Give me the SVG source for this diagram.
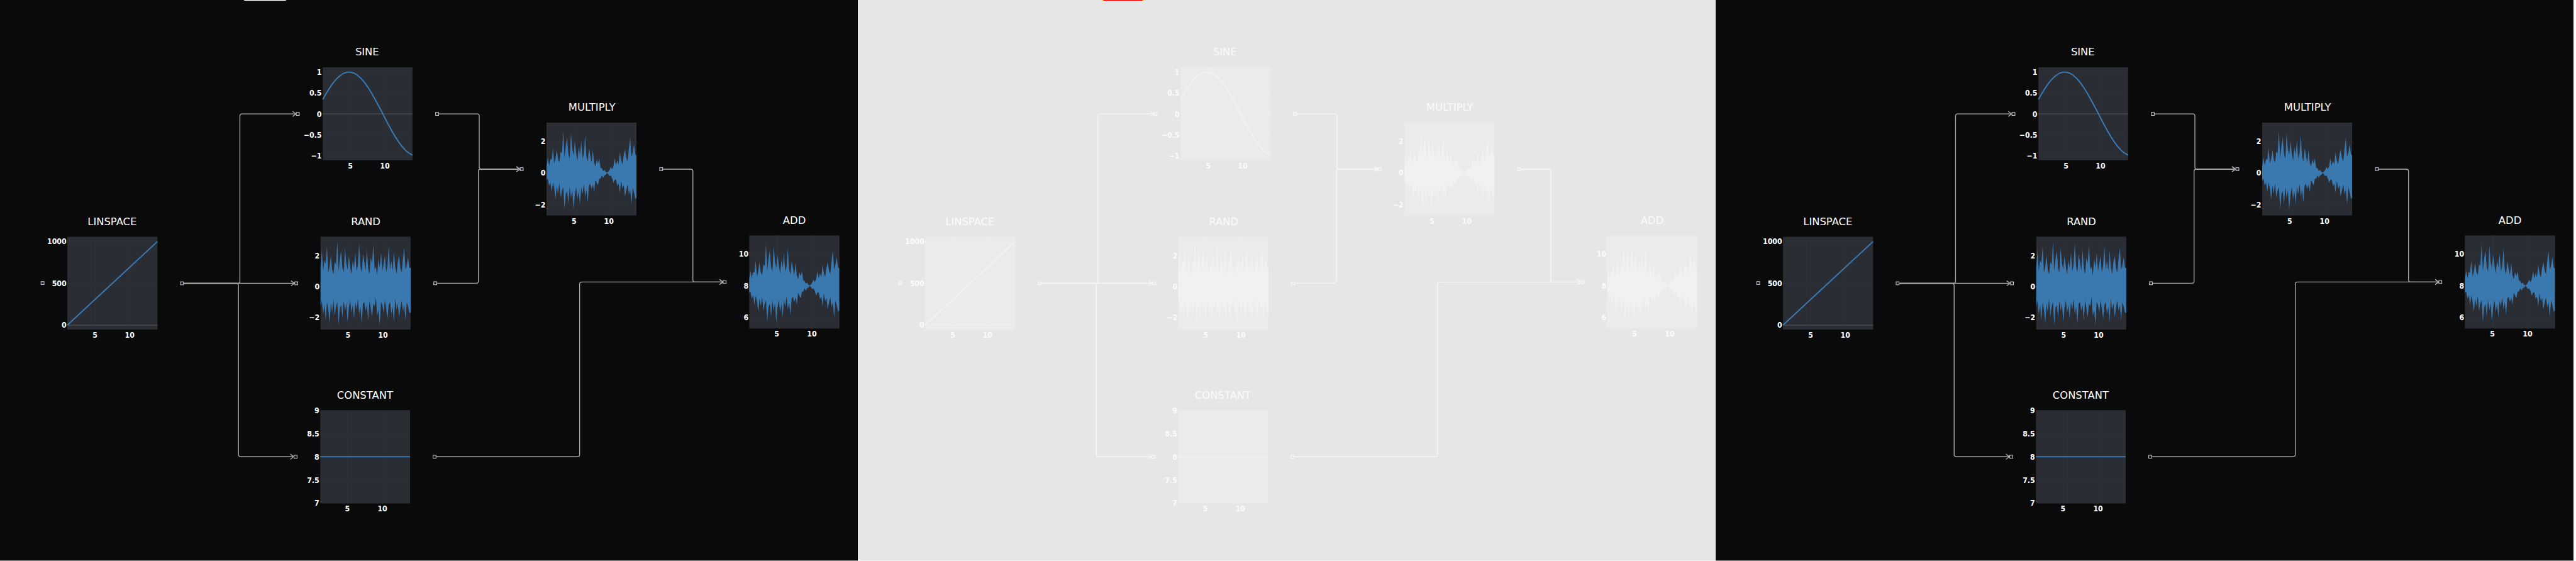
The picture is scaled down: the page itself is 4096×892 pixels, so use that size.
<svg xmlns="http://www.w3.org/2000/svg" xmlns:xlink="http://www.w3.org/1999/xlink" width="4096" height="892" viewBox="0 0 4096 892">
<style>
.bg{fill:#0a0a0a}
.plot{fill:#2a2d34}
.grid{stroke:#32353c;stroke-width:1;fill:none}
.zero{stroke:#4b4c51;stroke-width:2;fill:none}
.line{fill:none;stroke:#3a78b0;stroke-width:3;stroke-linejoin:round}
.band{fill:#3a78b0}
.title{font-family:"DejaVu Sans","Liberation Sans",sans-serif;font-size:24px;fill:#ffffff;text-anchor:middle}
.tk{font-family:"DejaVu Sans Condensed","DejaVu Sans","Liberation Sans",sans-serif;font-stretch:condensed;font-weight:bold;font-size:18px;fill:#ffffff}
.ty{text-anchor:end}
.tx{text-anchor:middle}
.conn{fill:none;stroke:#aaaaaa;stroke-width:2;marker-end:url(#arrD)}
.port{fill:#1c1b2b;stroke:#c8c8c8;stroke-width:1.5}
.light .bg{fill:#e6e6e6}
.light .plot{fill:#ebebeb}
.light .grid{stroke:#eeeeee}
.light .zero{stroke:#eeeeee}
.light .line{stroke:#f2f2f2}
.light .band{fill:#f1f1f1}
.light .conn{stroke:#f6f6f6;marker-end:url(#arrL)}
.light .port{fill:#e8e8e8;stroke:#fafafa}
.light .title,.light .tk{fill:#fbfbfb}
</style>
<defs>
<marker id="arrD" viewBox="-10 -8 12 16" markerWidth="12" markerHeight="16" refX="0" refY="0" orient="auto" markerUnits="userSpaceOnUse"><path d="M-8,-6 L0,0 L-8,6" fill="none" stroke="#aaaaaa" stroke-width="2"/></marker>
<marker id="arrL" viewBox="-10 -8 12 16" markerWidth="12" markerHeight="16" refX="0" refY="0" orient="auto" markerUnits="userSpaceOnUse"><path d="M-8,-6 L0,0 L-8,6" fill="none" stroke="#f6f6f6" stroke-width="2"/></marker>
<path id="randBand" d="M0,-1.2 L1,-2.4 2,-1 3,-1.7 4,-1.5 5,-2.6 6,-0.9 7,-1.3 8,-2 9,-1.1 10,-0.8 11,-1.6 12,-1.4 13,-2.9 14,-1 15,-1.8 16,-2.3 17,-1.2 18,-0.9 19,-2.5 20,-1.5 21,-1.1 22,-2 23,-1.3 24,-0.8 25,-1.7 26,-1.2 27,-2.2 28,-1 29,-1.4 30,-2.8 31,-1.3 32,-0.9 33,-2.1 34,-1.6 35,-1 36,-2.4 37,-1.2 38,-0.8 39,-1.9 40,-1.5 41,-2.7 42,-1.1 43,-1.3 44,-0.7 45,-1.8 46,-1.2 47,-2.2 48,-1 49,-1.5 50,-2 51,-0.9 52,-1.4 53,-2.6 54,-1.1 55,-1.7 56,-1 57,-2.3 58,-1.3 59,-0.8 60,-1.6 61,-2 62,-1.2 63,-0.9 64,-1.8 65,-2.5 66,-1.1 67,-1.4 68,-1.9 69,-1.2 70,-1.2 L70,1.7 69,1.7 68,1.3 67,1 66,2.2 65,1.2 64,1.6 63,0.9 62,1.4 61,2 60,1.1 59,1.5 58,0.8 57,2.3 56,1.3 55,1.8 54,1 53,1.2 52,2.1 51,1.4 50,0.9 49,1.7 48,1.2 47,1 46,2.5 45,1.5 44,1.9 43,0.7 42,1.3 41,1.1 40,2 39,1.4 38,0.9 37,2.2 36,1.2 35,1.6 34,1 33,1.1 32,2.4 31,1.3 30,1.8 29,0.8 28,1.5 27,1 26,2.1 25,1.2 24,1.7 23,0.9 22,1.4 21,2.3 20,1.1 19,1.6 18,0.9 17,2 16,1.2 15,1.4 14,2.5 13,1 12,1.3 11,1.9 10,0.8 9,1.7 8,1.1 7,2.4 6,1.5 5,1 4,2.2 3,1.2 2,1.8 1,0.9 0,1.3 Z"/>
<path id="multBand" d="M0,-15.3 L3,-35.6 6,-16.8 9,-31.9 12,-30.9 15,-58.2 18,-21.7 21,-33.5 24,-54.6 27,-31.6 30,-24 33,-50 36,-45.4 39,-96.9 42,-34.3 45,-63.1 48,-82.1 51,-43.5 54,-32.9 57,-92.2 60,-55.5 63,-40.7 66,-73.7 69,-47.5 72,-28.9 75,-60.6 78,-42 81,-75.3 84,-33.3 87,-45.3 90,-87.3 93,-38.9 96,-25.7 99,-57 102,-41 105,-24 108,-53.3 111,-24.5 114,-14.8 117,-31.6 120,-21.9 123,-34 126,-11.5 129,-10.9 132,-4.3 135,-7.2 138,-2.2 141,-0.8 144,-2.6 147,-7.2 150,-13.9 153,-8.2 156,-15.7 159,-34.5 162,-16.8 165,-29.4 168,-19.2 171,-48.4 174,-29.6 177,-19.6 180,-41.7 183,-55.2 186,-34.8 189,-27.3 192,-56.7 195,-81.4 198,-36.9 201,-48.1 204,-66.7 207,-43 209.8,-40 L209.8,58 207,60.9 204,45.6 201,34.4 198,73.7 195,39.1 192,50.4 189,27.3 186,40.6 183,55.2 180,28.7 177,36.7 174,18.2 171,48.4 168,24.9 165,31.1 162,15.3 159,15.9 156,23.5 153,12.7 150,6.3 147,8.1 144,3.1 141,0.4 138,4.6 135,6 132,11.8 129,5.9 126,13.6 123,13.8 120,29.2 117,23.3 114,16.7 111,44.9 108,26.7 105,38.3 102,25.6 99,29.9 96,68.6 93,38.9 90,56.1 87,25.9 84,50 81,34.2 78,73.5 75,42.8 72,61.5 69,32.9 66,51.6 63,85.1 60,40.7 57,59 54,32.9 51,72.5 48,42.9 45,49.1 42,85.8 39,33.4 36,42.1 33,59.4 30,24 27,48.8 24,30 21,61.8 18,36.2 15,22.4 12,45.3 9,22.5 6,30.3 3,13.3 0,16.6 Z"/>
<polyline id="sineCurve" points="752.6,231.9 760.6,217.7 768.7,204.7 776.7,193.3 784.8,183.8 792.8,176.4 800.9,171.2 808.9,168.4 816.9,168.2 825,170.4 833,175.1 841.1,182.1 849.1,191.3 857.2,202.4 865.2,215.2 873.3,229.4 881.3,244 889.4,259.3 897.4,275 905.4,290.4 913.5,305 921.5,318.7 929.6,331.1 937.6,341.7 945.7,350.7 953.7,357.2 961.7,361.4"/>
</defs>
<g transform="scale(0.682)">

<!-- ================= PANEL 1 ================= -->
<g id="p1">
<rect class="bg" x="0" y="0" width="2000" height="1307"/>
<rect x="568" y="-6" width="100" height="8" rx="4" fill="#ffffff"/>
<g id="p1-connectors">
<path class="conn" d="M428.9,660.5 H554.3 Q559.3,660.5 559.3,655.5 V270.6 Q559.3,265.6 564.3,265.6 H690"/>
<path class="conn" d="M428.9,660.5 H686.5"/>
<path class="conn" d="M428.9,660.5 H551 Q556,660.5 556,665.5 V1059.8 Q556,1064.8 561,1064.8 H684.8"/>
<path class="conn" d="M1023,265.6 H1112.3 Q1117.3,265.6 1117.3,270.6 V389.4 Q1117.3,394.4 1122.3,394.4 H1212"/>
<path class="conn" d="M1018.6,660.3 H1110.4 Q1115.4,660.3 1115.4,655.3 V399.4 Q1115.4,394.4 1120.4,394.4 H1212"/>
<path class="conn" d="M1545.3,394.4 H1610.4 Q1615.4,394.4 1615.4,399.4 V652.5 Q1615.4,657.5 1620.4,657.5 H1685.5"/>
<path class="conn" d="M1016.9,1064.8 H1346.4 Q1351.4,1064.8 1351.4,1059.8 V662.5 Q1351.4,657.5 1356.4,657.5 H1685.5"/>
</g>
<g id="p1-linspace">
<text class="title" x="261.5" y="524.3">LINSPACE</text>
<rect class="plot" x="157" y="552" width="210" height="216.6"/>
<path class="grid" d="M221.6,552V768.6M302.3,552V768.6M157,563H367M157,660.5H367"/>
<path class="zero" d="M157,758H367"/>
<path class="line" d="M157,758L367,563"/>
<text class="tk ty" x="155" y="569.5">1000</text>
<text class="tk ty" x="155" y="666.5">500</text>
<text class="tk ty" x="155" y="764.6">0</text>
<text class="tk tx" x="221.6" y="787.5">5</text>
<text class="tk tx" x="302.3" y="787.5">10</text>
<rect class="port" x="95.7" y="656.5" width="7" height="7"/>
<rect class="port" x="420.7" y="657" width="7" height="7"/>
</g>
<g id="p1-sine">
<text class="title" x="856" y="129.7">SINE</text>
<rect class="plot" x="752.6" y="157" width="209.1" height="216.7"/>
<path class="grid" d="M816.9,157V373.7M897.4,157V373.7M752.6,168.4H961.7M752.6,217H961.7M752.6,315H961.7M752.6,363.6H961.7"/>
<path class="zero" d="M752.6,265.6H961.7"/>
<use xlink:href="#sineCurve" class="line"/>
<text class="tk ty" x="750" y="175">1</text>
<text class="tk ty" x="750" y="223.5">0.5</text>
<text class="tk ty" x="750" y="272.2">0</text>
<text class="tk ty" x="750" y="321.5">−0.5</text>
<text class="tk ty" x="750" y="370.2">−1</text>
<text class="tk tx" x="816.9" y="393">5</text>
<text class="tk tx" x="897.4" y="393">10</text>
<rect class="port" x="690.8" y="262.1" width="7" height="7"/>
<rect class="port" x="1015.7" y="262.1" width="7" height="7"/>
</g>
<g id="p1-rand">
<text class="title" x="852.7" y="524.3">RAND</text>
<rect class="plot" x="747.4" y="551.8" width="209.9" height="216.8"/>
<path class="grid" d="M811.2,551.8V768.6M892.9,551.8V768.6M747.4,596H957.3M747.4,740H957.3"/>
<use xlink:href="#randBand" class="band" transform="translate(747.4 668) scale(3 36)"/>
<text class="tk ty" x="745" y="602.5">2</text>
<text class="tk ty" x="745" y="674.5">0</text>
<text class="tk ty" x="745" y="746.5">−2</text>
<text class="tk tx" x="811.2" y="787.5">5</text>
<text class="tk tx" x="892.9" y="787.5">10</text>
<rect class="port" x="687.3" y="657" width="7" height="7"/>
<rect class="port" x="1011.3" y="656.8" width="7" height="7"/>
</g>
<g id="p1-constant">
<text class="title" x="851" y="929">CONSTANT</text>
<rect class="plot" x="746.8" y="956.3" width="209.2" height="217.5"/>
<path class="grid" d="M810,956.3V1173.8M891.6,956.3V1173.8M746.8,1011.2H956M746.8,1119.3H956"/>
<path class="line" d="M746.8,1064.8H956"/>
<text class="tk ty" x="744.5" y="962.8">9</text>
<text class="tk ty" x="744.5" y="1017.7">8.5</text>
<text class="tk ty" x="744.5" y="1071.3">8</text>
<text class="tk ty" x="744.5" y="1125.8">7.5</text>
<text class="tk ty" x="744.5" y="1179.5">7</text>
<text class="tk tx" x="810" y="1192.8">5</text>
<text class="tk tx" x="891.6" y="1192.8">10</text>
<rect class="port" x="685.6" y="1061.3" width="7" height="7"/>
<rect class="port" x="1009.6" y="1061.3" width="7" height="7"/>
</g>
<g id="p1-multiply">
<text class="title" x="1380" y="258.3">MULTIPLY</text>
<rect class="plot" x="1274.2" y="285.8" width="209.8" height="216.7"/>
<path class="grid" d="M1338.6,285.8V502.5M1419.6,285.8V502.5M1274.2,329H1484M1274.2,403H1484M1274.2,477H1484"/>
<use xlink:href="#multBand" class="band" transform="translate(1274.2 403)"/>
<text class="tk ty" x="1272" y="335.5">2</text>
<text class="tk ty" x="1272" y="409.5">0</text>
<text class="tk ty" x="1272" y="483.4">−2</text>
<text class="tk tx" x="1338.6" y="521.5">5</text>
<text class="tk tx" x="1419.6" y="521.5">10</text>
<rect class="port" x="1212.9" y="390.9" width="7" height="7"/>
<rect class="port" x="1538" y="390.9" width="7" height="7"/>
</g>
<g id="p1-add">
<text class="title" x="1852" y="521.3">ADD</text>
<rect class="plot" x="1746.8" y="548.8" width="210.5" height="217.2"/>
<path class="grid" d="M1811,548.8V766M1892.8,548.8V766M1746.8,592H1957.3M1746.8,666H1957.3M1746.8,740H1957.3"/>
<use xlink:href="#multBand" class="band" transform="translate(1746.8 666)"/>
<text class="tk ty" x="1745" y="598.5">10</text>
<text class="tk ty" x="1745" y="672.5">8</text>
<text class="tk ty" x="1745" y="746.5">6</text>
<text class="tk tx" x="1811" y="784.7">5</text>
<text class="tk tx" x="1892.8" y="784.7">10</text>
<rect class="port" x="1686" y="654" width="7" height="7"/>
</g>
</g>

<!-- ================= PANEL 2 ================= -->
<g id="p2" class="light" transform="translate(2000 0)">
<rect class="bg" x="0" y="0" width="2000" height="1307"/>
<rect x="568" y="-6" width="100" height="7.5" rx="4" fill="#ffe600"/>
<rect x="571.5" y="-6" width="93" height="8" rx="3" fill="#ff0000"/>
<g id="p2-connectors">
<path class="conn" d="M428.9,660.5 H554.3 Q559.3,660.5 559.3,655.5 V270.6 Q559.3,265.6 564.3,265.6 H690"/>
<path class="conn" d="M428.9,660.5 H686.5"/>
<path class="conn" d="M428.9,660.5 H551 Q556,660.5 556,665.5 V1059.8 Q556,1064.8 561,1064.8 H684.8"/>
<path class="conn" d="M1023,265.6 H1112.3 Q1117.3,265.6 1117.3,270.6 V389.4 Q1117.3,394.4 1122.3,394.4 H1212"/>
<path class="conn" d="M1018.6,660.3 H1110.4 Q1115.4,660.3 1115.4,655.3 V399.4 Q1115.4,394.4 1120.4,394.4 H1212"/>
<path class="conn" d="M1545.3,394.4 H1610.4 Q1615.4,394.4 1615.4,399.4 V652.5 Q1615.4,657.5 1620.4,657.5 H1685.5"/>
<path class="conn" d="M1016.9,1064.8 H1346.4 Q1351.4,1064.8 1351.4,1059.8 V662.5 Q1351.4,657.5 1356.4,657.5 H1685.5"/>
</g>
<g id="p2-linspace">
<text class="title" x="261.5" y="524.3">LINSPACE</text>
<rect class="plot" x="157" y="552" width="210" height="216.6"/>
<path class="grid" d="M221.6,552V768.6M302.3,552V768.6M157,563H367M157,660.5H367"/>
<path class="zero" d="M157,758H367"/>
<path class="line" d="M157,758L367,563"/>
<text class="tk ty" x="155" y="569.5">1000</text>
<text class="tk ty" x="155" y="666.5">500</text>
<text class="tk ty" x="155" y="764.6">0</text>
<text class="tk tx" x="221.6" y="787.5">5</text>
<text class="tk tx" x="302.3" y="787.5">10</text>
<rect class="port" x="95.7" y="656.5" width="7" height="7"/>
<rect class="port" x="420.7" y="657" width="7" height="7"/>
</g>
<g id="p2-sine">
<text class="title" x="856" y="129.7">SINE</text>
<rect class="plot" x="752.6" y="157" width="209.1" height="216.7"/>
<path class="grid" d="M816.9,157V373.7M897.4,157V373.7M752.6,168.4H961.7M752.6,217H961.7M752.6,315H961.7M752.6,363.6H961.7"/>
<path class="zero" d="M752.6,265.6H961.7"/>
<use xlink:href="#sineCurve" class="line"/>
<text class="tk ty" x="750" y="175">1</text>
<text class="tk ty" x="750" y="223.5">0.5</text>
<text class="tk ty" x="750" y="272.2">0</text>
<text class="tk ty" x="750" y="321.5">−0.5</text>
<text class="tk ty" x="750" y="370.2">−1</text>
<text class="tk tx" x="816.9" y="393">5</text>
<text class="tk tx" x="897.4" y="393">10</text>
<rect class="port" x="690.8" y="262.1" width="7" height="7"/>
<rect class="port" x="1015.7" y="262.1" width="7" height="7"/>
</g>
<g id="p2-rand">
<text class="title" x="852.7" y="524.3">RAND</text>
<rect class="plot" x="747.4" y="551.8" width="209.9" height="216.8"/>
<path class="grid" d="M811.2,551.8V768.6M892.9,551.8V768.6M747.4,596H957.3M747.4,740H957.3"/>
<use xlink:href="#randBand" class="band" transform="translate(747.4 668) scale(3 36)"/>
<text class="tk ty" x="745" y="602.5">2</text>
<text class="tk ty" x="745" y="674.5">0</text>
<text class="tk ty" x="745" y="746.5">−2</text>
<text class="tk tx" x="811.2" y="787.5">5</text>
<text class="tk tx" x="892.9" y="787.5">10</text>
<rect class="port" x="687.3" y="657" width="7" height="7"/>
<rect class="port" x="1011.3" y="656.8" width="7" height="7"/>
</g>
<g id="p2-constant">
<text class="title" x="851" y="929">CONSTANT</text>
<rect class="plot" x="746.8" y="956.3" width="209.2" height="217.5"/>
<path class="grid" d="M810,956.3V1173.8M891.6,956.3V1173.8M746.8,1011.2H956M746.8,1119.3H956"/>
<path class="line" d="M746.8,1064.8H956"/>
<text class="tk ty" x="744.5" y="962.8">9</text>
<text class="tk ty" x="744.5" y="1017.7">8.5</text>
<text class="tk ty" x="744.5" y="1071.3">8</text>
<text class="tk ty" x="744.5" y="1125.8">7.5</text>
<text class="tk ty" x="744.5" y="1179.5">7</text>
<text class="tk tx" x="810" y="1192.8">5</text>
<text class="tk tx" x="891.6" y="1192.8">10</text>
<rect class="port" x="685.6" y="1061.3" width="7" height="7"/>
<rect class="port" x="1009.6" y="1061.3" width="7" height="7"/>
</g>
<g id="p2-multiply">
<text class="title" x="1380" y="258.3">MULTIPLY</text>
<rect class="plot" x="1274.2" y="285.8" width="209.8" height="216.7"/>
<path class="grid" d="M1338.6,285.8V502.5M1419.6,285.8V502.5M1274.2,329H1484M1274.2,403H1484M1274.2,477H1484"/>
<use xlink:href="#multBand" class="band" transform="translate(1274.2 403)"/>
<text class="tk ty" x="1272" y="335.5">2</text>
<text class="tk ty" x="1272" y="409.5">0</text>
<text class="tk ty" x="1272" y="483.4">−2</text>
<text class="tk tx" x="1338.6" y="521.5">5</text>
<text class="tk tx" x="1419.6" y="521.5">10</text>
<rect class="port" x="1212.9" y="390.9" width="7" height="7"/>
<rect class="port" x="1538" y="390.9" width="7" height="7"/>
</g>
<g id="p2-add">
<text class="title" x="1852" y="521.3">ADD</text>
<rect class="plot" x="1746.8" y="548.8" width="210.5" height="217.2"/>
<path class="grid" d="M1811,548.8V766M1892.8,548.8V766M1746.8,592H1957.3M1746.8,666H1957.3M1746.8,740H1957.3"/>
<use xlink:href="#multBand" class="band" transform="translate(1746.8 666)"/>
<text class="tk ty" x="1745" y="598.5">10</text>
<text class="tk ty" x="1745" y="672.5">8</text>
<text class="tk ty" x="1745" y="746.5">6</text>
<text class="tk tx" x="1811" y="784.7">5</text>
<text class="tk tx" x="1892.8" y="784.7">10</text>
<rect class="port" x="1686" y="654" width="7" height="7"/>
</g>
</g>

<!-- ================= PANEL 3 ================= -->
<g id="p3" transform="translate(4000 0)">
<rect class="bg" x="0" y="0" width="2000" height="1307"/>
<g id="p3-connectors">
<path class="conn" d="M428.9,660.5 H554.3 Q559.3,660.5 559.3,655.5 V270.6 Q559.3,265.6 564.3,265.6 H690"/>
<path class="conn" d="M428.9,660.5 H686.5"/>
<path class="conn" d="M428.9,660.5 H551 Q556,660.5 556,665.5 V1059.8 Q556,1064.8 561,1064.8 H684.8"/>
<path class="conn" d="M1023,265.6 H1112.3 Q1117.3,265.6 1117.3,270.6 V389.4 Q1117.3,394.4 1122.3,394.4 H1212"/>
<path class="conn" d="M1018.6,660.3 H1110.4 Q1115.4,660.3 1115.4,655.3 V399.4 Q1115.4,394.4 1120.4,394.4 H1212"/>
<path class="conn" d="M1545.3,394.4 H1610.4 Q1615.4,394.4 1615.4,399.4 V652.5 Q1615.4,657.5 1620.4,657.5 H1685.5"/>
<path class="conn" d="M1016.9,1064.8 H1346.4 Q1351.4,1064.8 1351.4,1059.8 V662.5 Q1351.4,657.5 1356.4,657.5 H1685.5"/>
</g>
<g id="p3-linspace">
<text class="title" x="261.5" y="524.3">LINSPACE</text>
<rect class="plot" x="157" y="552" width="210" height="216.6"/>
<path class="grid" d="M221.6,552V768.6M302.3,552V768.6M157,563H367M157,660.5H367"/>
<path class="zero" d="M157,758H367"/>
<path class="line" d="M157,758L367,563"/>
<text class="tk ty" x="155" y="569.5">1000</text>
<text class="tk ty" x="155" y="666.5">500</text>
<text class="tk ty" x="155" y="764.6">0</text>
<text class="tk tx" x="221.6" y="787.5">5</text>
<text class="tk tx" x="302.3" y="787.5">10</text>
<rect class="port" x="95.7" y="656.5" width="7" height="7"/>
<rect class="port" x="420.7" y="657" width="7" height="7"/>
</g>
<g id="p3-sine">
<text class="title" x="856" y="129.7">SINE</text>
<rect class="plot" x="752.6" y="157" width="209.1" height="216.7"/>
<path class="grid" d="M816.9,157V373.7M897.4,157V373.7M752.6,168.4H961.7M752.6,217H961.7M752.6,315H961.7M752.6,363.6H961.7"/>
<path class="zero" d="M752.6,265.6H961.7"/>
<use xlink:href="#sineCurve" class="line"/>
<text class="tk ty" x="750" y="175">1</text>
<text class="tk ty" x="750" y="223.5">0.5</text>
<text class="tk ty" x="750" y="272.2">0</text>
<text class="tk ty" x="750" y="321.5">−0.5</text>
<text class="tk ty" x="750" y="370.2">−1</text>
<text class="tk tx" x="816.9" y="393">5</text>
<text class="tk tx" x="897.4" y="393">10</text>
<rect class="port" x="690.8" y="262.1" width="7" height="7"/>
<rect class="port" x="1015.7" y="262.1" width="7" height="7"/>
</g>
<g id="p3-rand">
<text class="title" x="852.7" y="524.3">RAND</text>
<rect class="plot" x="747.4" y="551.8" width="209.9" height="216.8"/>
<path class="grid" d="M811.2,551.8V768.6M892.9,551.8V768.6M747.4,596H957.3M747.4,740H957.3"/>
<use xlink:href="#randBand" class="band" transform="translate(747.4 668) scale(3 36)"/>
<text class="tk ty" x="745" y="602.5">2</text>
<text class="tk ty" x="745" y="674.5">0</text>
<text class="tk ty" x="745" y="746.5">−2</text>
<text class="tk tx" x="811.2" y="787.5">5</text>
<text class="tk tx" x="892.9" y="787.5">10</text>
<rect class="port" x="687.3" y="657" width="7" height="7"/>
<rect class="port" x="1011.3" y="656.8" width="7" height="7"/>
</g>
<g id="p3-constant">
<text class="title" x="851" y="929">CONSTANT</text>
<rect class="plot" x="746.8" y="956.3" width="209.2" height="217.5"/>
<path class="grid" d="M810,956.3V1173.8M891.6,956.3V1173.8M746.8,1011.2H956M746.8,1119.3H956"/>
<path class="line" d="M746.8,1064.8H956"/>
<text class="tk ty" x="744.5" y="962.8">9</text>
<text class="tk ty" x="744.5" y="1017.7">8.5</text>
<text class="tk ty" x="744.5" y="1071.3">8</text>
<text class="tk ty" x="744.5" y="1125.8">7.5</text>
<text class="tk ty" x="744.5" y="1179.5">7</text>
<text class="tk tx" x="810" y="1192.8">5</text>
<text class="tk tx" x="891.6" y="1192.8">10</text>
<rect class="port" x="685.6" y="1061.3" width="7" height="7"/>
<rect class="port" x="1009.6" y="1061.3" width="7" height="7"/>
</g>
<g id="p3-multiply">
<text class="title" x="1380" y="258.3">MULTIPLY</text>
<rect class="plot" x="1274.2" y="285.8" width="209.8" height="216.7"/>
<path class="grid" d="M1338.6,285.8V502.5M1419.6,285.8V502.5M1274.2,329H1484M1274.2,403H1484M1274.2,477H1484"/>
<use xlink:href="#multBand" class="band" transform="translate(1274.2 403)"/>
<text class="tk ty" x="1272" y="335.5">2</text>
<text class="tk ty" x="1272" y="409.5">0</text>
<text class="tk ty" x="1272" y="483.4">−2</text>
<text class="tk tx" x="1338.6" y="521.5">5</text>
<text class="tk tx" x="1419.6" y="521.5">10</text>
<rect class="port" x="1212.9" y="390.9" width="7" height="7"/>
<rect class="port" x="1538" y="390.9" width="7" height="7"/>
</g>
<g id="p3-add">
<text class="title" x="1852" y="521.3">ADD</text>
<rect class="plot" x="1746.8" y="548.8" width="210.5" height="217.2"/>
<path class="grid" d="M1811,548.8V766M1892.8,548.8V766M1746.8,592H1957.3M1746.8,666H1957.3M1746.8,740H1957.3"/>
<use xlink:href="#multBand" class="band" transform="translate(1746.8 666)"/>
<text class="tk ty" x="1745" y="598.5">10</text>
<text class="tk ty" x="1745" y="672.5">8</text>
<text class="tk ty" x="1745" y="746.5">6</text>
<text class="tk tx" x="1811" y="784.7">5</text>
<text class="tk tx" x="1892.8" y="784.7">10</text>
<rect class="port" x="1686" y="654" width="7" height="7"/>
</g>
</g>
</g>
</svg>
